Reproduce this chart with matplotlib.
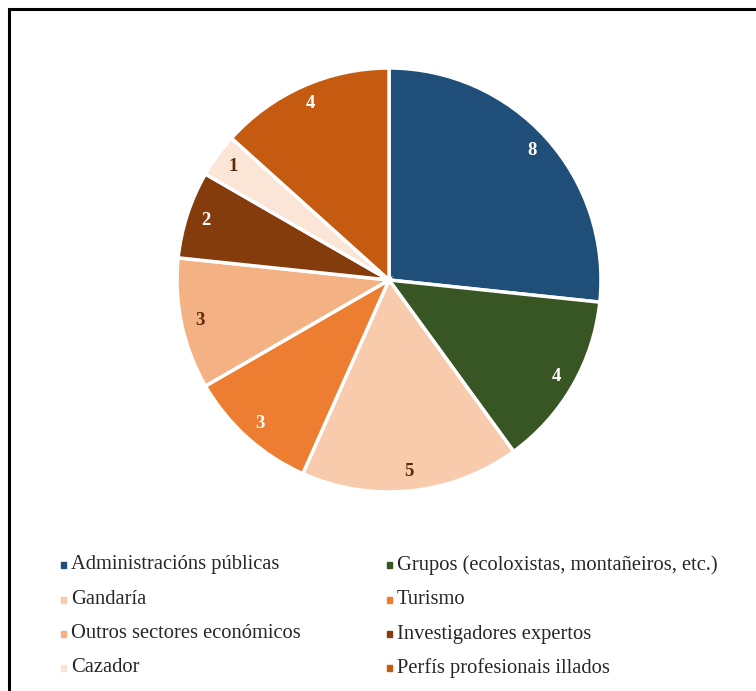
import matplotlib.pyplot as plt
from matplotlib.patches import Rectangle

labels = ["Administracións públicas", "Grupos (ecoloxistas, montañeiros, etc.)",
          "Gandaría", "Turismo", "Outros sectores económicos",
          "Investigadores expertos", "Cazador", "Perfís profesionais illados"]
values = [8, 4, 5, 3, 3, 2, 1, 4]
colors = ["#1F4E79", "#375623", "#F8CBAD", "#ED7D31", "#F4B183",
          "#843C0C", "#FBE5D6", "#C55A11"]
text_colors = ["white", "white", "#5A2A0A", "white", "#5A2A0A",
               "white", "#5A2A0A", "white"]

plt.rcParams['font.family'] = ['Liberation Serif', 'DejaVu Serif']

W, H = 756, 691
fig = plt.figure(figsize=(W / 100, H / 100), dpi=100)

# pie axes: centre (389, 280), radius 212 px
cx, cy, r = 389, 280, 212
ax = fig.add_axes([(cx - r) / W, 1 - (cy + r) / H, 2 * r / W, 2 * r / H])
wedges, texts = ax.pie(values, colors=colors, startangle=90, counterclock=False,
                       radius=1.0, labels=[str(v) for v in values], labeldistance=0.91,
                       wedgeprops=dict(edgecolor="white", linewidth=2.5))
for t, c in zip(texts, text_colors):
    t.set_color(c)
    t.set_fontsize(13.5)
    t.set_fontweight("bold")
    t.set_ha("center")
    t.set_va("center")
ax.set_xlim(-1, 1)
ax.set_ylim(-1, 1)
ax.set_aspect("equal")
ax.axis("off")

# legend, two columns
col_x = [61, 387]
row_y = [565, 600, 634, 668]
for i, (lab, col) in enumerate(zip(labels, colors)):
    x = col_x[i % 2]
    y = row_y[i // 2]
    fig.patches.append(Rectangle((x / W, 1 - (y + 3) / H), 5 / W, 6 / H,
                                 transform=fig.transFigure, color=col))
    fig.text((x + 10) / W, 1 - y / H, lab, fontsize=14.8, va="center", ha="left",
             color="#262626")

# outer frame
fig.patches.append(Rectangle((9 / W, -0.05), 1.0, 1 - 9 / H + 0.05, transform=fig.transFigure,
                             fill=False, edgecolor="black", linewidth=2.2))

fig.savefig("out.png", dpi=100)
